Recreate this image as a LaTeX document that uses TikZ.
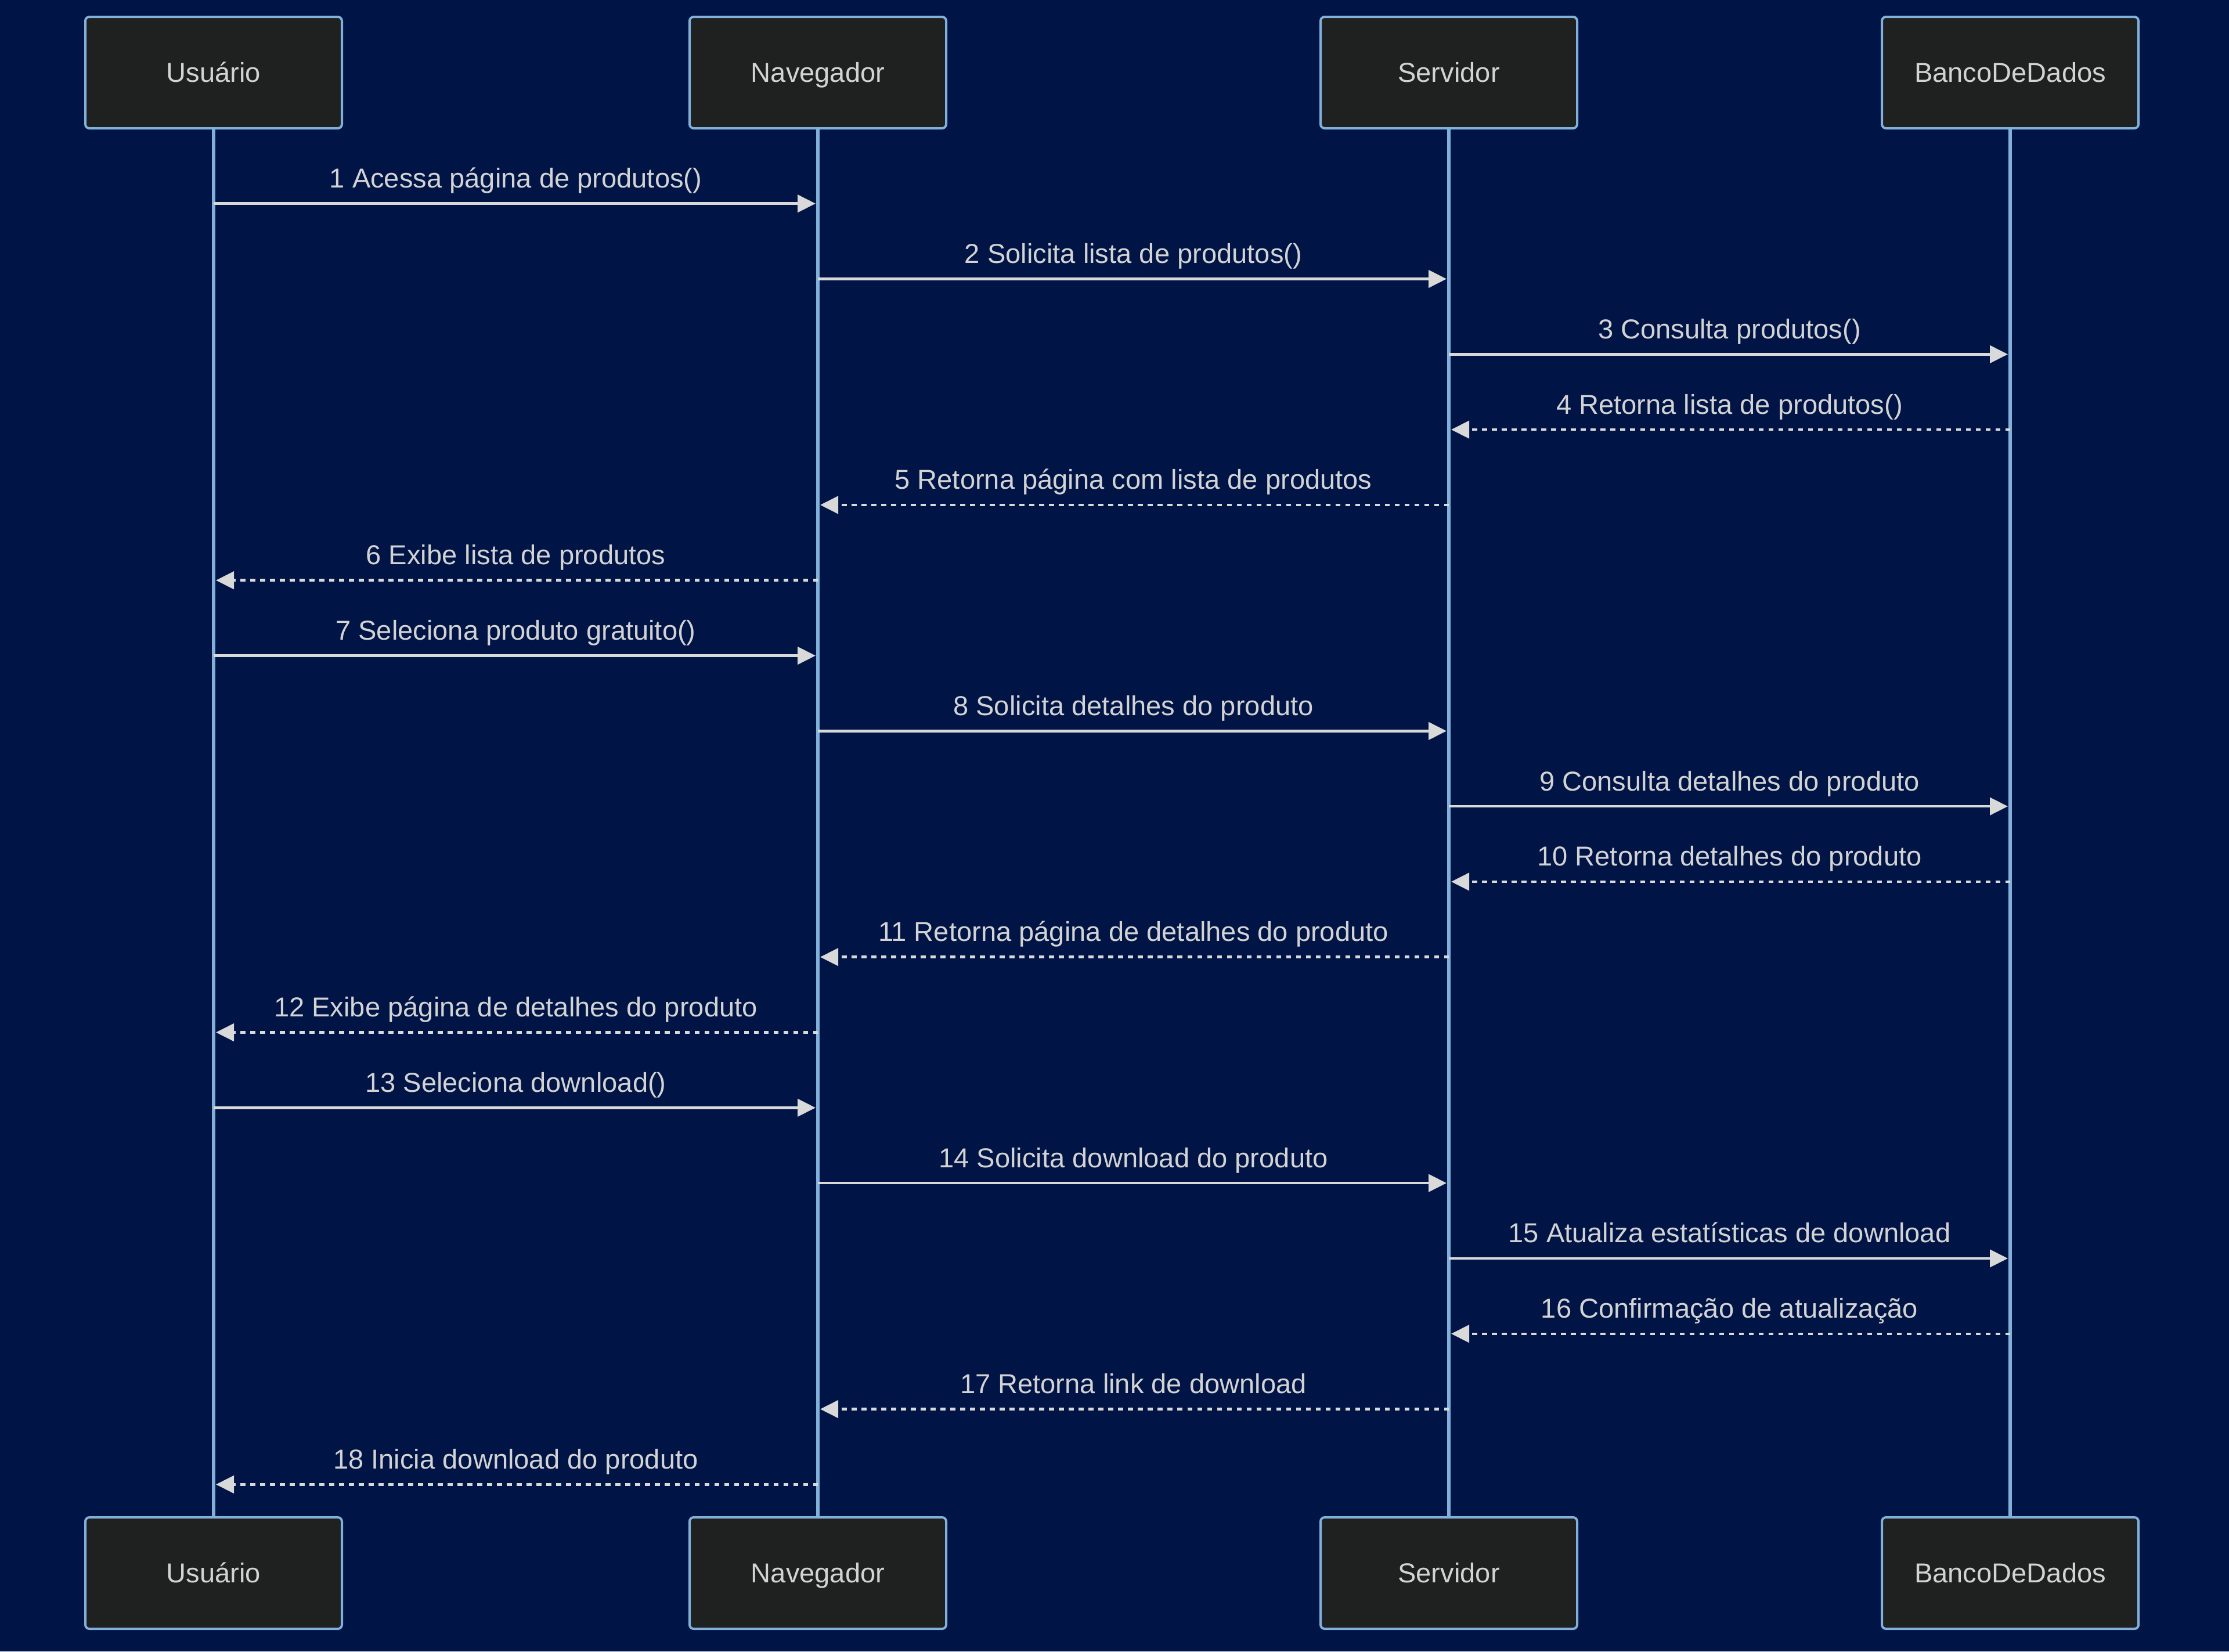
\documentclass[tikz,border=0pt]{standalone}
\usepackage{fontspec}
\setmainfont{Liberation Sans}
\usetikzlibrary{arrows.meta,positioning}
\definecolor{bgnavy}{RGB}{0,20,70}
\definecolor{actorfill}{RGB}{31,32,32}
\definecolor{actorline}{RGB}{129,177,219}
\definecolor{msgline}{RGB}{217,217,217}
\definecolor{msgtext}{RGB}{211,211,211}

\begin{document}
\begin{tikzpicture}[
  actor/.style={draw=actorline, fill=actorfill, line width=0.04cm, rounded corners=0.07cm,
                minimum width=4.42cm, minimum height=1.92cm, text=msgtext,
                text height=0.33cm, text depth=0cm, font=\fontsize{13.4}{16}\selectfont},
  life/.style={actorline, line width=0.053cm},
  call/.style={-{Triangle[length=0.31cm,width=0.30cm]}, msgline, line width=0.045cm, shorten >=0.04cm},
  reply/.style={call, dash pattern=on 0.085cm off 0.085cm},
  lbl/.style={anchor=base, yshift=0.27cm, text=msgtext, font=\fontsize{13.4}{16}\selectfont}
]
\fill[bgnavy] (0,0) rectangle (38.4,-28.45);
\useasboundingbox (0,0) rectangle (38.4,-28.45);

% actors, top row
\node[actor] (usr) at (3.68,-1.25) {Usuário};
\node[actor] (nav) at (14.09,-1.25) {Navegador};
\node[actor] (srv) at (24.96,-1.25) {Servidor};
\node[actor] (bd) at (34.63,-1.25) {BancoDeDados};

% actors, bottom row
\node[actor] (usr2) at (3.68,-27.10) {Usuário};
\node[actor] (nav2) at (14.09,-27.10) {Navegador};
\node[actor] (srv2) at (24.96,-27.10) {Servidor};
\node[actor] (bd2) at (34.63,-27.10) {BancoDeDados};

% lifelines
\foreach \a in {usr,nav,srv,bd}
  \draw[life] (\a.south) -- (\a2.north);

% messages
\foreach \i/\src/\dst/\kind/\txt in {
  1/usr/nav/call/1 Acessa página de produtos(),
  2/nav/srv/call/2 Solicita lista de produtos(),
  3/srv/bd/call/3 Consulta produtos(),
  4/bd/srv/reply/4 Retorna lista de produtos(),
  5/srv/nav/reply/5 Retorna página com lista de produtos,
  6/nav/usr/reply/6 Exibe lista de produtos,
  7/usr/nav/call/7 Seleciona produto gratuito(),
  8/nav/srv/call/8 Solicita detalhes do produto,
  9/srv/bd/call/9 Consulta detalhes do produto,
  10/bd/srv/reply/10 Retorna detalhes do produto,
  11/srv/nav/reply/11 Retorna página de detalhes do produto,
  12/nav/usr/reply/12 Exibe página de detalhes do produto,
  13/usr/nav/call/13 Seleciona download(),
  14/nav/srv/call/14 Solicita download do produto,
  15/srv/bd/call/15 Atualiza estatísticas de download,
  16/bd/srv/reply/16 Confirmação de atualização,
  17/srv/nav/reply/17 Retorna link de download,
  18/nav/usr/reply/18 Inicia download do produto}
{
  \pgfmathsetmacro\y{-3.507-(\i-1)*1.298}
  \draw[\kind] (\src |- 0,\y) -- (\dst |- 0,\y) node[midway, lbl] {\txt};
}
\end{tikzpicture}
\end{document}
